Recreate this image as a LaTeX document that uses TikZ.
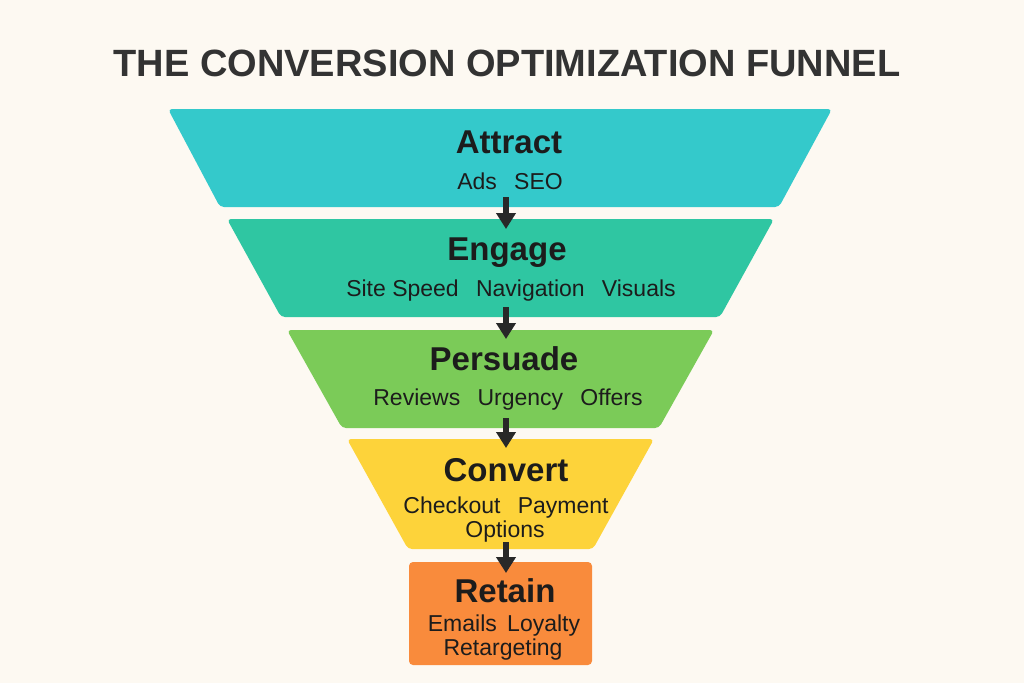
\documentclass[tikz,border=0pt]{standalone}
\usepackage{fontspec}
\setmainfont{Liberation Sans}
\usetikzlibrary{arrows.meta}
\definecolor{bgc}{RGB}{253,249,242}
\definecolor{titlec}{RGB}{51,51,51}
\definecolor{txtc}{RGB}{28,28,28}
\definecolor{attractc}{RGB}{52,201,203}
\definecolor{engagec}{RGB}{47,198,162}
\definecolor{persuadec}{RGB}{123,203,88}
\definecolor{convertc}{RGB}{253,211,58}
\definecolor{retainc}{RGB}{249,139,60}
\definecolor{arrowc}{RGB}{40,40,40}
\tikzset{
  stage/.style={rounded corners=4pt},
  head/.style={anchor=base, inner sep=0pt, text=txtc, font=\fontsize{33}{36}\selectfont\bfseries},
  sub/.style={anchor=base, inner sep=0pt, text=txtc, font=\fontsize{23}{24}\selectfont},
  flow/.style={draw=arrowc, line width=5.5pt, -{Triangle[length=16pt,width=19pt]}}
}
\newcommand{\gapw}{\hspace{0.75em}}
\begin{document}
\begin{tikzpicture}[x=1pt,y=-1pt]
\fill[bgc] (0,0) rectangle (1024,683);
\useasboundingbox (0,0) rectangle (1024,683);
\node[anchor=base, inner sep=0pt, text=titlec, font=\fontsize{38}{40}\selectfont\bfseries] (title) at (507,76) {THE CONVERSION OPTIMIZATION FUNNEL};
% stages
\fill[attractc, stage] (168,109) -- (832,109) -- (779,207) -- (220,207) -- cycle;
\fill[engagec, stage] (227,219) -- (774,219) -- (720,317) -- (281,317) -- cycle;
\fill[persuadec, stage] (287,330) -- (714,330) -- (659,428) -- (342,428) -- cycle;
\fill[convertc, stage] (347,439) -- (654,439) -- (593,549) -- (408,549) -- cycle;
\fill[retainc, stage] (409,562) rectangle (592,665);
% texts
\node[head] (attract) at (509,153) {Attract};
\node[sub] (attractsub) at (510,189) {Ads\gapw SEO};
\node[head] (engage) at (507,260) {Engage};
\node[sub] (engagesub) at (511,296) {Site Speed\gapw Navigation\gapw Visuals};
\node[head] (persuade) at (504,370) {Persuade};
\node[sub] (persuadesub) at (508,405) {Reviews\gapw Urgency\gapw Offers};
\node[head] (convert) at (506,481) {Convert};
\node[sub] (convertsub) at (506,513) {Checkout\gapw Payment};
\node[sub] (convertsub2) at (505,537) {Options};
\node[head] (retain) at (505,602) {Retain};
\node[sub] (retainsub) at (504,631) {Emails\hspace{0.45em}Loyalty};
\node[sub] (retainsub2) at (503,655) {Retargeting};
% connectors
\coordinate (a1) at (506,197); \coordinate (b1) at (506,229);
\coordinate (a2) at (506,307); \coordinate (b2) at (506,339);
\coordinate (a3) at (506,418); \coordinate (b3) at (506,448);
\coordinate (a4) at (506,542); \coordinate (b4) at (506,573);
\draw[flow] (a1) -- (b1);
\draw[flow] (a2) -- (b2);
\draw[flow] (a3) -- (b3);
\draw[flow] (a4) -- (b4);
\end{tikzpicture}
\end{document}
